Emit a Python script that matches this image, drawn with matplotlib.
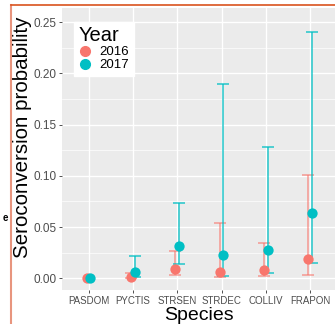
import matplotlib.pyplot as plt
import numpy as np
from matplotlib.lines import Line2D

plt.rcParams['font.family'] = ['Liberation Sans', 'DejaVu Sans']

species = ['PASDOM', 'PYCTIS', 'STRSEN', 'STRDEC', 'COLLIV', 'FRAPON']

# 2016
est_2016 = [0.0, 0.0016, 0.0088, 0.006, 0.008, 0.0185]
lo_2016 = [0.0, 0.0003, 0.003, 0.001, 0.002, 0.003]
hi_2016 = [0.0, 0.005, 0.027, 0.054, 0.034, 0.1005]

# 2017
est_2017 = [0.0, 0.0064, 0.032, 0.0227, 0.028, 0.064]
lo_2017 = [0.0, 0.001, 0.014, 0.002, 0.0055, 0.0146]
hi_2017 = [0.0, 0.0217, 0.073, 0.19, 0.128, 0.240]

C16 = '#F8766D'
C17 = '#00BFC4'

fig = plt.figure(figsize=(3.35, 3.24), dpi=100)
ax = fig.add_axes([0.185, 0.105, 0.815, 0.870])
ax.set_facecolor('#EBEBEB')

x = np.arange(1, len(species) + 1)
dodge = 0.04

for xs, est, lo, hi, col, z, a in [(x - dodge, est_2016, lo_2016, hi_2016, C16, 2, 0.7),
                                    (x + dodge, est_2017, lo_2017, hi_2017, C17, 3, 0.85)]:
    est = np.array(est)
    yerr = [est - np.array(lo), np.array(hi) - est]
    has = np.array(hi) > 0
    ax.errorbar(xs[has], est[has], yerr=[yerr[0][has], yerr[1][has]], fmt='none',
                ecolor=col, elinewidth=1.1, capsize=4.5, capthick=1.1, alpha=a, zorder=z)

ax.scatter(x - dodge, est_2016, s=55, color=C16, zorder=4, linewidths=0)
ax.scatter(x + dodge, est_2017, s=55, color=C17, zorder=5, linewidths=0)

ax.set_xlim(0.4, 6.56)
ax.set_ylim(-0.0114, 0.2637)
ax.set_xticks(x)
ax.set_xticklabels(species, fontsize=7, color='#4D4D4D')
ax.set_yticks([0, 0.05, 0.10, 0.15, 0.20, 0.25])
ax.set_yticklabels(['0.00', '0.05', '0.10', '0.15', '0.20', '0.25'], fontsize=8.5, color='#4D4D4D')
ax.set_yticks(np.arange(0.025, 0.26, 0.05), minor=True)
ax.tick_params(axis='both', which='major', length=2.5, width=0.6, color='#333333', pad=1.5)
ax.tick_params(axis='y', which='minor', length=0)

ax.grid(True, which='major', color='white', linewidth=1.0)
ax.grid(True, which='minor', axis='y', color='white', linewidth=0.5)
ax.set_axisbelow(True)
for s in ax.spines.values():
    s.set_visible(False)

ax.set_xlabel('Species', fontsize=14)
ax.set_ylabel('Seroconversion probability', fontsize=14.8)
ax.xaxis.set_label_coords(0.5, -0.062)
ax.yaxis.set_label_coords(-0.11, 0.54)

handles = [Line2D([], [], marker='o', linestyle='none', color=C16, markersize=7, label='2016'),
           Line2D([], [], marker='o', linestyle='none', color=C17, markersize=7, label='2017')]
leg = ax.legend(handles=handles, title='Year', loc='upper left', bbox_to_anchor=(0.02, 0.975),
                fontsize=9.5, title_fontsize=14.5, frameon=True, fancybox=False,
                edgecolor='white', framealpha=1, labelspacing=0.05, handletextpad=0.6,
                borderpad=0.35, handlelength=1.0, alignment='left')

# border of the captured frame
fig.add_artist(Line2D([11 / 335, 11 / 335], [0, 1 - 5 / 324], color='#E8957E', linewidth=1.5))
fig.add_artist(Line2D([11 / 335, 1], [1 - 5 / 324, 1 - 5 / 324], color='#D9531E', linewidth=1.2))
fig.text(3 / 335, 1 - 218 / 324, 'e', fontsize=7, fontweight='bold', ha='left', va='center')

fig.savefig('out.png', dpi=100)
